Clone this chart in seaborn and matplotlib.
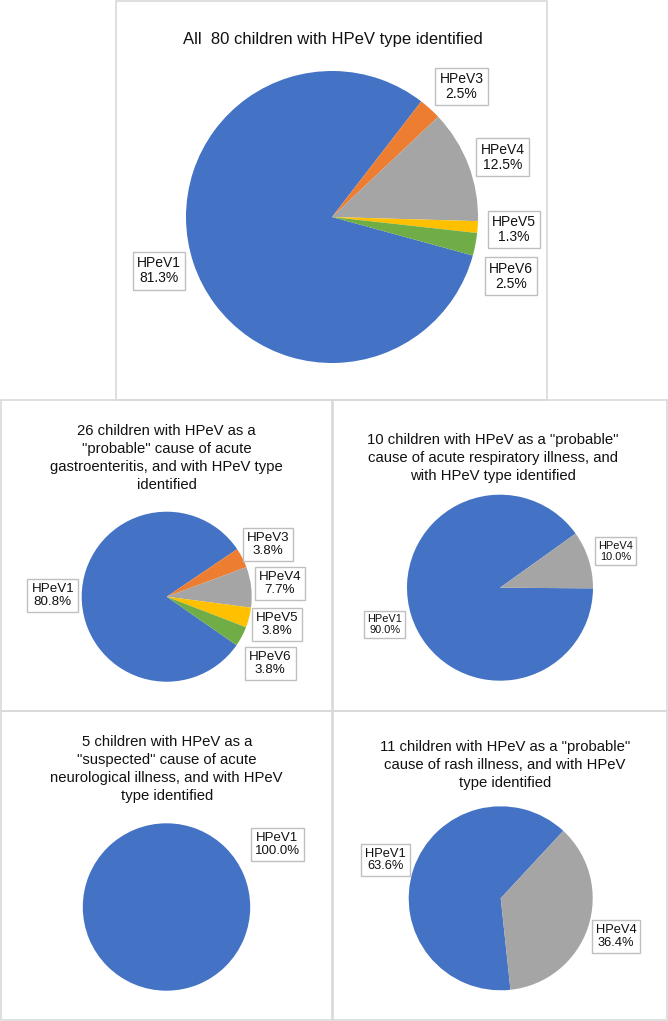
import matplotlib
matplotlib.use("Agg")
import matplotlib.pyplot as plt
import seaborn as sns
from matplotlib.patches import Rectangle

#================================
# DATA
#================================
types_all = ["HPeV1", "HPeV3", "HPeV4", "HPeV5", "HPeV6"]
pct_all = [81.3, 2.5, 12.5, 1.3, 2.5]

types_gastro = ["HPeV1", "HPeV3", "HPeV4", "HPeV5", "HPeV6"]
pct_gastro = [80.8, 3.8, 7.7, 3.8, 3.8]

types_resp = ["HPeV1", "HPeV4"]
pct_resp = [90.0, 10.0]

types_neuro = ["HPeV1"]
pct_neuro = [100.0]

types_rash = ["HPeV1", "HPeV4"]
pct_rash = [63.6, 36.4]

title_all = "All  80 children with HPeV type identified"
title_gastro = ('26 children with HPeV as a\n"probable" cause of acute\n'
                'gastroenteritis, and with HPeV type\nidentified')
title_resp = ('10 children with HPeV as a "probable"\ncause of acute respiratory illness, and\n'
              'with HPeV type identified')
title_neuro = ('5 children with HPeV as a\n"suspected" cause of acute\n'
               'neurological illness, and with HPeV\ntype identified')
title_rash = ('11 children with HPeV as a "probable"\ncause of rash illness, and with HPeV\n'
              'type identified')

colors = {"HPeV1": "#4472C4", "HPeV3": "#ED7D31", "HPeV4": "#A5A5A5",
          "HPeV5": "#FFC000", "HPeV6": "#70AD47"}

#================================
# SETUP
#================================
sns.set_style("white")
plt.rcParams['font.family'] = ['Liberation Sans', 'DejaVu Sans']

W, H = 668, 1021
fig = plt.figure(figsize=(W / 100, H / 100), dpi=100)
ax = fig.add_axes([0, 0, 1, 1])


def box(x0, y0, x1, y1):
    # panel frame, image pixel coords (y down)
    ax.add_patch(Rectangle((x0, H - y1), x1 - x0, y1 - y0, fill=False,
                           ec="#D9D9D9", lw=1.2, zorder=0))


def draw_pie(types, pct, cx, cy, r, start_cw, ldist, fs, shifts=None):
    labels = [f"{t}\n{p:.1f}%" for t, p in zip(types, pct)]
    wedges, texts = ax.pie(pct, labels=labels,
                           colors=[colors[t] for t in types],
                           startangle=90 - start_cw, counterclock=False,
                           center=(cx, H - cy), radius=r, labeldistance=ldist,
                           wedgeprops=dict(linewidth=0),
                           textprops=dict(fontsize=fs, color="#111111"))
    for t in texts:
        t.set_ha("center")
        t.set_va("center")
        t.set_multialignment("center")
        t.set_linespacing(1.1)
        t.set_bbox(dict(boxstyle="square,pad=0.3", fc="white", ec="#BFBFBF", lw=1))
        name = t.get_text().split("\n")[0]
        if shifts and name in shifts:
            dx, dy = shifts[name]
            x, y = t.get_position()
            t.set_position((x + dx, y - dy))


def title(txt, x, y, fs):
    ax.text(x, H - y, txt, ha="center", va="center", fontsize=fs,
            color="#111111", linespacing=1.35)

#================================
# PANELS
#================================
box(116, 1, 547, 400)
box(1, 400, 333, 711)
box(332, 400, 667, 711)
box(1, 711, 333, 1020)
box(332, 711, 667, 1020)

draw_pie(types_all, pct_all, 332, 217, 146, 105.3, 1.25, 10,
         shifts={"HPeV3": (7, 5), "HPeV4": (0, 5), "HPeV6": (0, 25), "HPeV1": (0, -4)})
title(title_all, 333, 40, 12)

draw_pie(types_gastro, pct_gastro, 166.7, 596.7, 85, 124.8, 1.34, 9.6,
         shifts={"HPeV6": (3, 13)})
title(title_gastro, 166.7, 458, 10.7)

draw_pie(types_resp, pct_resp, 500, 587.7, 93, 90.4, 1.3, 7.9)
title(title_resp, 493, 458, 10.7)

draw_pie(types_neuro, pct_neuro, 166.5, 907, 83.7, 240.4, 1.52, 9.5)
title(title_neuro, 166.7, 769, 10.7)

draw_pie(types_rash, pct_rash, 500.7, 898.3, 92, 173.9, 1.32, 9.3)
title(title_rash, 505, 765, 10.7)

ax.set_xlim(0, W)
ax.set_ylim(0, H)
ax.set_aspect("equal")
ax.set_axis_off()

plt.savefig("out.png", dpi=100)
